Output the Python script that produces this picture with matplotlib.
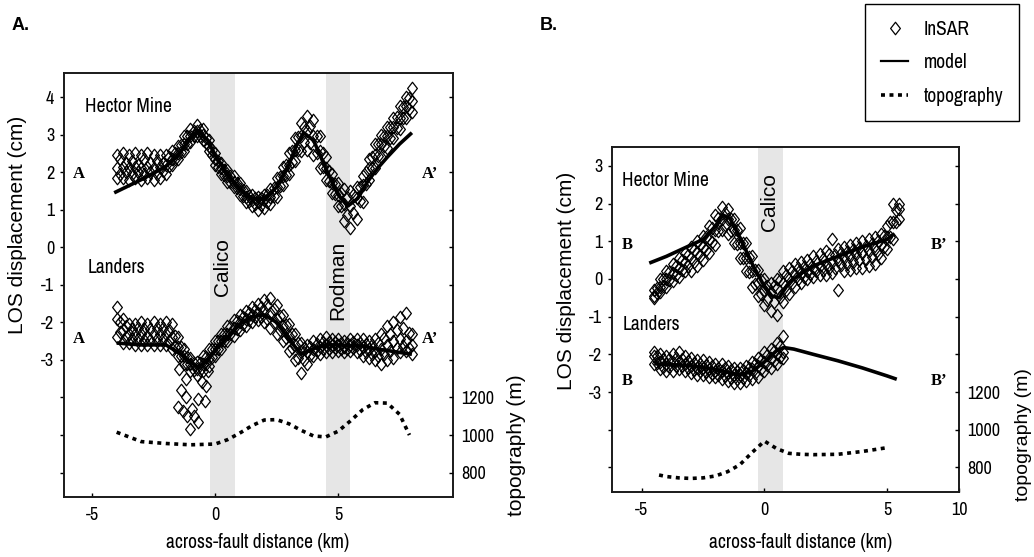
import matplotlib
matplotlib.use("Agg")
import matplotlib.pyplot as plt
from matplotlib.path import Path
from matplotlib.lines import Line2D

# ---------------------------------------------------------------------------
# Profile A-A'  (across-fault distance in km, LOS displacement in cm)
# ---------------------------------------------------------------------------
a_x = [-4.0, -3.75, -3.5, -3.25, -3.0, -2.75, -2.5, -2.25, -2.0, -1.75, -1.5,
       -1.25, -1.0, -0.75, -0.5, -0.25, 0.0, 0.25, 0.5, 0.75, 1.0, 1.25, 1.5,
       1.75, 2.0, 2.25, 2.5, 2.75, 3.0, 3.25, 3.5, 3.75, 4.0, 4.25, 4.5, 4.75,
       5.0, 5.25, 5.5, 5.75, 6.0, 6.25, 6.5, 6.75, 7.0, 7.25, 7.5, 7.75, 8.0]
a_x2 = [-3.875, -3.625, -3.375, -3.125, -2.875, -2.625, -2.375, -2.125,
        -1.875, -1.625, -1.375, -1.125, -0.875, -0.625, -0.375, -0.125,
        0.125, 0.375, 0.625, 0.875, 1.125, 1.375, 1.625, 1.875,
        2.125, 2.375, 2.625, 2.875, 3.125, 3.375, 3.625, 3.875,
        4.125, 4.375, 4.625, 4.875, 5.125, 5.375, 5.625, 5.875,
        6.125, 6.375, 6.625, 6.875, 7.125, 7.375, 7.625, 7.875]

# Hector Mine InSAR samples along A-A' (adjacent tracks)
hm_a_upper = [2.45, 2.5, 2.45, 2.5, 2.45, 2.5, 2.45, 2.45, 2.45, 2.55, 2.7,
              2.95, 3.15, 3.25, 3.15, 2.85, 2.5, 2.25, 2.05, 1.9, 1.7, 1.5, 1.4,
              1.35, 1.4, 1.55, 1.85, 2.15, 2.5, 2.9, 3.3, 3.5, 3.4, 2.95, 2.4,
              1.95, 1.7, 1.55, 1.5, 1.6, 1.9, 2.35, 2.75, 3.0, 3.2, 3.45, 3.75,
              4.0, 4.25]
hm_a_mid = [2.1, 2.15, 2.1, 2.15, 2.1, 2.15, 2.1, 2.15, 2.2, 2.35, 2.5,
            2.75, 2.95, 3.1, 3.0, 2.7, 2.35, 2.1, 1.9, 1.75, 1.55, 1.35, 1.25,
            1.2, 1.25, 1.35, 1.6, 1.9, 2.2, 2.6, 2.95, 3.1, 2.95, 2.55, 2.1,
            1.7, 1.4, 1.15, 1.1, 1.3, 1.65, 2.1, 2.45, 2.75, 2.95, 3.2, 3.45,
            3.75, 3.9]
hm_a_lower = [1.85, 1.85, 1.8, 1.85, 1.8, 1.85, 1.8, 1.85, 1.95, 2.2, 2.35,
              2.55, 2.8, 2.95, 2.85, 2.55, 2.2, 1.95, 1.75, 1.6, 1.4, 1.2, 1.1,
              1.0, 1.05, 1.15, 1.35, 1.65, 1.95, 2.3, 2.55, 2.6, 2.45, 2.1, 1.8,
              1.45, 1.1, 0.7, 0.5, 0.75, 1.2, 1.8, 2.1, 2.4, 2.65, 2.9, 3.15,
              3.45, 3.6]
hm_a_upper2 = [2.35, 2.25, 2.3, 2.2, 2.35, 2.25, 2.3, 2.25, 2.4, 2.52, 2.72,
               2.95, 3.1, 3.12, 2.92, 2.6, 2.3, 2.07, 1.9, 1.72, 1.52, 1.37,
               1.3, 1.3, 1.39, 1.59, 1.87, 2.19, 2.55, 2.94, 3.21, 3.24, 2.96,
               2.5, 2.04, 1.69, 1.45, 1.33, 1.38, 1.61, 2.0, 2.41, 2.74, 2.97,
               3.2, 3.46, 3.74, 3.98]
hm_a_lower2 = [1.95, 2.0, 1.95, 2.0, 1.95, 2.0, 1.95, 2.04, 2.17, 2.35, 2.54,
               2.76, 2.95, 2.97, 2.77, 2.45, 2.15, 1.92, 1.75, 1.57, 1.37,
               1.22, 1.14, 1.12, 1.2, 1.36, 1.62, 1.92, 2.26, 2.6, 2.8, 2.77,
               2.51, 2.14, 1.76, 1.41, 1.09, 0.86, 0.91, 1.22, 1.69, 2.11,
               2.42, 2.69, 2.92, 3.17, 3.45, 3.67]

# Landers InSAR samples along A-A'
la_a_upper = [-1.6, -1.9, -2.05, -2.05, -2.0, -2.05, -2.0, -2.05, -2.0, -2.05,
              -2.4, -2.7, -2.95, -3.05, -2.9, -2.7, -2.5, -2.3, -2.1, -1.95,
              -1.8, -1.7, -1.6, -1.5, -1.4, -1.35, -1.55, -1.8, -2.05, -2.3,
              -2.55, -2.6, -2.5, -2.45, -2.4, -2.45, -2.45, -2.5, -2.45, -2.45,
              -2.45, -2.5, -2.45, -2.3, -2.1, -2.0, -1.85, -1.75, -2.3]
la_a_mid = [-1.9, -2.2, -2.3, -2.3, -2.3, -2.35, -2.3, -2.3, -2.3, -2.4,
            -2.65, -2.9, -3.1, -3.25, -3.1, -2.95, -2.7, -2.5, -2.3, -2.15,
            -2.0, -1.9, -1.8, -1.75, -1.7, -1.75, -1.9, -2.1, -2.35, -2.6,
            -2.8, -2.8, -2.7, -2.65, -2.6, -2.6, -2.6, -2.65, -2.6, -2.6,
            -2.65, -2.7, -2.75, -2.7, -2.6, -2.5, -2.45, -2.5, -2.6]
la_a_lower = [-2.4, -2.55, -2.55, -2.6, -2.6, -2.6, -2.6, -2.6, -2.6, -2.7,
              -2.9, -3.1, -3.3, -3.4, -3.3, -3.15, -2.9, -2.7, -2.5, -2.35,
              -2.2, -2.1, -2.0, -1.95, -2.0, -2.15, -2.3, -2.5, -2.75, -3.0,
              -3.35, -3.1, -2.9, -2.85, -2.8, -2.8, -2.75, -2.8, -2.75, -2.8,
              -2.9, -2.95, -3.0, -3.1, -3.0, -2.95, -2.8, -2.75, -2.85]
la_a_upper2 = [-2.0, -2.1, -2.18, -2.15, -2.18, -2.18, -2.16, -2.16, -2.19,
               -2.37, -2.66, -2.91, -3.09, -3.07, -2.91, -2.71, -2.5, -2.3,
               -2.12, -1.97, -1.85, -1.75, -1.66, -1.59, -1.55, -1.64, -1.84,
               -2.07, -2.32, -2.56, -2.69, -2.65, -2.57, -2.52, -2.52, -2.52,
               -2.55, -2.55, -2.52, -2.54, -2.58, -2.6, -2.55, -2.42, -2.3,
               -2.2, -2.14, -2.29]
la_a_lower2 = [-2.26, -2.4, -2.44, -2.45, -2.46, -2.46, -2.45, -2.45, -2.5,
               -2.66, -2.89, -3.1, -3.26, -3.26, -3.12, -2.92, -2.7, -2.5,
               -2.32, -2.17, -2.05, -1.95, -1.87, -1.85, -1.9, -2.02, -2.2,
               -2.42, -2.67, -2.94, -3.01, -2.87, -2.77, -2.72, -2.7, -2.69,
               -2.7, -2.7, -2.69, -2.74, -2.8, -2.85, -2.89, -2.85, -2.76,
               -2.68, -2.63, -2.68]
# Landers samples in the deep trough west of the Calico fault
la_a_dip_x = [-1.45, -1.4, -1.5, -1.3, -1.2, -1.2, -1.15, -1.0, -0.95, -0.85,
              -0.7, -0.7, -0.55, -0.4, -0.35, -0.3]
la_a_dip_y = [-3.25, -3.8, -4.25, -4.35, -3.5, -4.0, -4.5, -4.85, -4.3, -4.5,
              -4.65, -4.05, -3.6, -4.1, -3.7, -3.3]

# Model predictions along A-A'
hm_a_model_x = [-4.1, -3.0, -2.0, -1.5, -1.0, -0.7, -0.3, 0.0, 0.5, 1.0, 1.5,
                2.0, 2.5, 3.0, 3.3, 3.6, 4.0, 4.5, 5.0, 5.4, 5.8, 6.2, 6.6,
                7.0, 7.5, 8.0]
hm_a_model_y = [1.45, 1.8, 2.15, 2.45, 2.9, 3.1, 2.85, 2.45, 1.95, 1.55, 1.3,
                1.3, 1.6, 2.2, 2.7, 3.05, 2.85, 2.1, 1.4, 1.1, 1.3, 1.75, 2.1,
                2.4, 2.75, 3.05]
la_a_model_x = [-4.0, -3.0, -2.0, -1.5, -1.0, -0.7, -0.3, 0.0, 0.5, 1.0, 1.5,
                2.0, 2.5, 3.0, 3.5, 4.0, 4.5, 5.0, 5.5, 6.0, 6.5, 7.0, 7.5, 8.0]
la_a_model_y = [-2.55, -2.6, -2.6, -2.8, -3.05, -3.2, -3.0, -2.75, -2.4,
                -2.05, -1.85, -1.8, -2.0, -2.45, -2.85, -2.7, -2.6, -2.6,
                -2.62, -2.63, -2.7, -2.75, -2.8, -2.85]

# Topography along A-A' (m)
topo_a_x = [-4.0, -3.0, -2.0, -1.0, 0.0, 0.5, 1.0, 1.5, 2.0, 2.5, 3.0, 3.5,
            4.0, 4.5, 5.0, 5.5, 6.0, 6.5, 7.0, 7.5, 7.9]
topo_a = [1015, 965, 955, 948, 952, 975, 1010, 1050, 1080, 1082, 1060, 1025,
          995, 990, 1020, 1075, 1135, 1172, 1170, 1110, 1000]

# ---------------------------------------------------------------------------
# Profile B-B'
# ---------------------------------------------------------------------------
b_hm_x = [-4.5, -4.25, -4.0, -3.75, -3.5, -3.25, -3.0, -2.75, -2.5, -2.25,
          -2.0, -1.75, -1.5, -1.25, -1.0, -0.75, -0.5, -0.25, 0.0, 0.25, 0.5,
          0.75, 1.0, 1.25, 1.5, 1.75, 2.0, 2.25, 2.5, 2.75, 3.0, 3.25, 3.5,
          3.75, 4.0, 4.25, 4.5, 4.75, 5.0, 5.25, 5.5]
b_hm_x2 = [-4.375, -4.125, -3.875, -3.625, -3.375, -3.125, -2.875, -2.625,
           -2.375, -2.125, -1.875, -1.625, -1.375, -1.125, -0.875, -0.625,
           -0.375, -0.125, 0.125, 0.375, 0.625, 0.875, 1.125, 1.375, 1.625,
           1.875, 2.125, 2.375, 2.625, 2.875, 3.125, 3.375, 3.625, 3.875,
           4.125, 4.375, 4.625, 4.875, 5.125, 5.375]
hm_b_upper = [-0.3, 0.0, 0.2, 0.4, 0.55, 0.7, 0.85, 1.0, 1.15, 1.4, 1.7, 1.9,
              1.85, 1.6, 1.35, 0.95, 0.6, 0.25, 0.0, -0.1, 0.0, 0.2, 0.3, 0.4,
              0.45, 0.5, 0.6, 0.65, 0.75, 1.05, 0.8, 0.85, 0.9, 0.95, 1.0,
              1.05, 1.1, 1.2, 1.4, 2.0, 2.0]
hm_b_mid = [-0.45, -0.2, 0.0, 0.15, 0.3, 0.45, 0.55, 0.7, 0.85, 1.05, 1.3,
            1.6, 1.6, 1.3, 0.95, 0.55, 0.2, -0.1, -0.3, -0.35, -0.25, -0.1,
            0.0, 0.1, 0.15, 0.2, 0.3, 0.35, 0.4, 0.45, 0.5, 0.55, 0.6, 0.65,
            0.7, 0.75, 0.8, 0.9, 1.1, 1.5, 1.85]
hm_b_lower = [-0.5, -0.35, -0.2, -0.05, 0.05, 0.2, 0.2, 0.35, 0.5, 0.7, 0.9,
              1.3, 1.2, 0.95, 0.55, 0.2, -0.2, -0.45, -0.7, -0.85, -0.95,
              -0.6, -0.4, -0.2, -0.1, 0.0, 0.05, 0.1, 0.1, 0.15, -0.3, 0.2,
              0.25, 0.3, 0.3, 0.35, 0.4, 0.55, 0.8, 1.05, 1.6]
hm_b_upper2 = [-0.24, 0.0, 0.19, 0.35, 0.5, 0.64, 0.78, 0.93, 1.11, 1.36,
               1.63, 1.74, 1.59, 1.3, 0.95, 0.58, 0.24, -0.04, -0.19, -0.18,
               -0.04, 0.1, 0.2, 0.28, 0.33, 0.4, 0.48, 0.54, 0.65, 0.64,
               0.68, 0.72, 0.78, 0.83, 0.88, 0.93, 1.0, 1.15, 1.5, 1.84]
hm_b_lower2 = [-0.38, -0.19, -0.03, 0.11, 0.25, 0.35, 0.45, 0.6, 0.78, 0.99,
               1.28, 1.42, 1.26, 0.94, 0.56, 0.19, -0.14, -0.39, -0.55, -0.6,
               -0.48, -0.28, -0.12, -0.01, 0.06, 0.14, 0.2, 0.24, 0.28, 0.3,
               0.36, 0.4, 0.45, 0.49, 0.53, 0.58, 0.66, 0.84, 1.11, 1.5]

b_la_x = [-4.5, -4.25, -4.0, -3.75, -3.5, -3.25, -3.0, -2.75, -2.5, -2.25,
          -2.0, -1.75, -1.5, -1.25, -1.0, -0.75, -0.5, -0.25, 0.0, 0.25, 0.5,
          0.75]
b_la_x2 = [-4.375, -4.125, -3.875, -3.625, -3.375, -3.125, -2.875, -2.625,
           -2.375, -2.125, -1.875, -1.625, -1.375, -1.125, -0.875, -0.625,
           -0.375, -0.125, 0.125, 0.375, 0.625]
la_b_upper = [-1.95, -2.0, -2.05, -2.0, -1.95, -2.05, -2.1, -2.15, -2.15,
              -2.2, -2.25, -2.25, -2.3, -2.35, -2.35, -2.3, -2.2, -2.1, -1.95,
              -1.85, -1.7, -1.5]
la_b_mid = [-2.05, -2.2, -2.25, -2.2, -2.2, -2.25, -2.3, -2.35, -2.35, -2.4,
            -2.45, -2.45, -2.5, -2.55, -2.55, -2.5, -2.4, -2.3, -2.2, -2.1,
            -2.0, -1.95]
la_b_lower = [-2.25, -2.4, -2.45, -2.45, -2.4, -2.45, -2.5, -2.55, -2.55,
              -2.6, -2.6, -2.65, -2.7, -2.75, -2.75, -2.7, -2.65, -2.6, -2.45,
              -2.35, -2.25, -2.1]
la_b_upper2 = [-2.05, -2.12, -2.13, -2.09, -2.11, -2.18, -2.22, -2.25, -2.27,
               -2.32, -2.35, -2.37, -2.42, -2.45, -2.42, -2.35, -2.25, -2.14,
               -2.02, -1.91, -1.79]
la_b_lower2 = [-2.22, -2.33, -2.34, -2.31, -2.32, -2.37, -2.42, -2.45, -2.47,
               -2.51, -2.54, -2.57, -2.62, -2.65, -2.62, -2.56, -2.49, -2.39,
               -2.27, -2.17, -2.07]

hm_b_model_x = [-4.7, -4.0, -3.0, -2.5, -2.0, -1.7, -1.4, -1.0, -0.5, 0.0,
                0.3, 0.6, 1.0, 1.5, 2.0, 3.0, 4.0, 5.0, 5.3]
hm_b_model_y = [0.42, 0.6, 0.9, 1.05, 1.4, 1.7, 1.6, 1.1, 0.4, -0.2, -0.45,
                -0.5, -0.1, 0.15, 0.35, 0.6, 0.85, 1.05, 1.2]
la_b_model_x = [-4.5, -3.0, -2.0, -1.0, -0.5, 0.0, 0.5, 0.8, 1.2, 2.0, 3.0,
                4.0, 5.0, 5.4]
la_b_model_y = [-2.25, -2.3, -2.4, -2.55, -2.45, -2.2, -1.9, -1.82, -1.86,
                -2.0, -2.17, -2.36, -2.57, -2.66]

topo_b_x = [-4.3, -4.0, -3.5, -3.0, -2.5, -2.0, -1.5, -1.0, -0.5, 0.0, 0.5,
            1.0, 1.5, 2.0, 3.0, 4.0, 5.0]
topo_b = [760, 752, 745, 742, 745, 755, 778, 815, 880, 940, 900, 875, 870,
          868, 870, 885, 905]

# ---------------------------------------------------------------------------
# Styling
# ---------------------------------------------------------------------------
NARROW = ['Liberation Sans Narrow', 'Arial Narrow', 'Nimbus Sans Narrow',
          'Archivo Narrow', 'Roboto Condensed', 'PT Sans Narrow',
          'Liberation Sans', 'DejaVu Sans']
WIDE = ['Liberation Sans', 'DejaVu Sans']
SERIF = ['Liberation Serif', 'DejaVu Serif']
plt.rcParams['font.family'] = NARROW
plt.rcParams['axes.unicode_minus'] = False

DIAMOND = Path([(0, 1), (0.78, 0), (0, -1), (-0.78, 0), (0, 1)],
               [Path.MOVETO, Path.LINETO, Path.LINETO, Path.LINETO,
                Path.CLOSEPOLY])
PT_STYLE = dict(ls='none', marker=DIAMOND, ms=9, mfc='none', mec='black',
                mew=0.9, zorder=3)
MODEL_STYLE = dict(color='black', lw=2.6, zorder=4, solid_capstyle='butt')
TOPO_STYLE = dict(color='black', lw=2.6, ls=(0, (1.1, 1.25)),
                  dash_capstyle='butt', zorder=4)
BAND = '#e6e6e6'

W, H = 1034, 557
fig = plt.figure(figsize=(W / 100, H / 100), dpi=100)


def frac_x(px):
    return px / W


def frac_y(py):
    return 1 - py / H


def make_panel(left, top, right, bottom, xlim, ylim, yticks, ylabelled,
               topo_ref, xticks, xticklabels):
    ax = fig.add_axes([frac_x(left), frac_y(bottom),
                       frac_x(right - left), (bottom - top) / H])
    ax.set_xlim(*xlim)
    ax.set_ylim(*ylim)
    ax.set_yticks(yticks)
    ax.set_yticklabels([str(v) if v in ylabelled else '' for v in yticks])
    ax.set_xticks(xticks)
    ax.set_xticklabels(xticklabels)
    ax.tick_params(axis='y', direction='out', length=3, width=1,
                   labelsize=13, pad=4)
    ax.tick_params(axis='x', direction='in', length=3, width=1,
                   labelsize=13, pad=7)
    for s in ax.spines.values():
        s.set_linewidth(1.4)
        s.set_color('#1a1a1a')
    # topography scale on the right: 200 m per displacement unit
    axt = ax.twinx()
    base, unit = topo_ref
    axt.set_ylim(base + unit * ylim[0], base + unit * ylim[1])
    tt = [base + unit * v for v in yticks]
    axt.set_yticks(tt)
    axt.set_yticklabels([str(int(t)) if t in (800, 1000, 1200) else ''
                         for t in tt])
    axt.tick_params(axis='y', direction='in', length=3, width=1,
                    labelsize=13, pad=6)
    for s in axt.spines.values():
        s.set_visible(False)
    return ax, axt


# ----------------------------- panel A ------------------------------------
axA, axA_t = make_panel(64, 73, 453, 497, (-6.14, 9.67), (-6.65, 4.64),
                        list(range(-6, 5)), list(range(-3, 5)),
                        (2000, 200), [-5, 0, 5], ['-5', '0', '5'])
axA.axvspan(-0.2, 0.8, color=BAND, lw=0, zorder=0)
axA.axvspan(4.5, 5.5, color=BAND, lw=0, zorder=0)

for ys in (hm_a_upper, hm_a_mid, hm_a_lower, la_a_upper, la_a_mid,
           la_a_lower):
    axA.plot(a_x, ys, **PT_STYLE)
for ys in (hm_a_upper2, hm_a_lower2, la_a_upper2, la_a_lower2):
    axA.plot(a_x2, ys, **PT_STYLE)
axA.plot(la_a_dip_x, la_a_dip_y, **PT_STYLE)
axA.plot(hm_a_model_x, hm_a_model_y, **MODEL_STYLE)
axA.plot(la_a_model_x, la_a_model_y, **MODEL_STYLE)
axA_t.plot(topo_a_x, topo_a, **TOPO_STYLE)

axA.text(-5.28, 3.75, 'Hector Mine', fontsize=14, va='center', ha='left')
axA.text(-5.16, -0.53, 'Landers', fontsize=14, va='center', ha='left')
axA.text(0.3, -0.53, 'Calico', fontsize=15, rotation=90, va='center',
         ha='center', family=WIDE)
axA.text(5.0, -0.88, 'Rodman', fontsize=15, rotation=90, va='center',
         ha='center', family=WIDE)
for yy in (1.94, -2.45):
    axA.text(-5.53, yy, 'A', fontsize=12, weight='bold', family=SERIF,
             va='center', ha='center')
    axA.text(8.74, yy, 'A\u2019', fontsize=12, weight='bold', family=SERIF,
             va='center', ha='center')

# ----------------------------- panel B ------------------------------------
axB, axB_t = make_panel(612, 147, 959, 492, (-6.22, 7.94), (-5.65, 3.5),
                        list(range(-5, 4)), list(range(-3, 4)),
                        (1800, 200), [-5, 0, 5, 7.94],
                        ['-5', '0', '5', '10'])
axB.axvspan(-0.25, 0.75, color=BAND, lw=0, zorder=0)

for ys in (hm_b_upper, hm_b_mid, hm_b_lower):
    axB.plot(b_hm_x, ys, **PT_STYLE)
for ys in (hm_b_upper2, hm_b_lower2):
    axB.plot(b_hm_x2, ys, **PT_STYLE)
for ys in (la_b_upper, la_b_mid, la_b_lower):
    axB.plot(b_la_x, ys, **PT_STYLE)
for ys in (la_b_upper2, la_b_lower2):
    axB.plot(b_la_x2, ys, **PT_STYLE)
axB.plot(hm_b_model_x, hm_b_model_y, **MODEL_STYLE)
axB.plot(la_b_model_x, la_b_model_y, **MODEL_STYLE)
axB_t.plot(topo_b_x, topo_b, **TOPO_STYLE)

axB.text(-5.8, 2.6, 'Hector Mine', fontsize=14, va='center', ha='left')
axB.text(-5.8, -1.2, 'Landers', fontsize=14, va='center', ha='left')
axB.text(0.2, 2.04, 'Calico', fontsize=15, rotation=90, va='center',
         ha='center', family=WIDE)
for yy in (0.9, -2.7):
    axB.text(-5.6, yy, 'B', fontsize=12, weight='bold', family=SERIF,
             va='center', ha='center')
    axB.text(7.14, yy, 'B\u2019', fontsize=12, weight='bold', family=SERIF,
             va='center', ha='center')

# ----------------------------- labels -------------------------------------
fig.text(frac_x(258), frac_y(542), 'across-fault distance (km)', fontsize=14,
         ha='center', va='center')
fig.text(frac_x(801), frac_y(542), 'across-fault distance (km)', fontsize=14,
         ha='center', va='center')
fig.text(frac_x(18), frac_y(225), 'LOS displacement (cm)', fontsize=15,
         rotation=90, ha='center', va='center', family=WIDE)
fig.text(frac_x(567), frac_y(281), 'LOS displacement (cm)', fontsize=15,
         rotation=90, ha='center', va='center', family=WIDE)
fig.text(frac_x(517), frac_y(445), 'topography (m)', fontsize=15,
         rotation=90, ha='center', va='center', family=WIDE)
fig.text(frac_x(1023), frac_y(435), 'topography (m)', fontsize=14,
         rotation=90, ha='center', va='center', family=WIDE)
fig.text(frac_x(12), frac_y(26), 'A.', fontsize=13, weight='bold',
         ha='left', va='center', family=WIDE)
fig.text(frac_x(540), frac_y(26), 'B.', fontsize=13, weight='bold',
         ha='left', va='center', family=WIDE)

# ----------------------------- legend -------------------------------------
handles = [
    Line2D([], [], ls='none', marker=DIAMOND, ms=9, mfc='none', mec='black',
           mew=0.9, label='InSAR'),
    Line2D([], [], color='black', lw=1.6, label='model'),
    Line2D([], [], color='black', lw=2.6, ls=(0, (1.1, 1.25)),
           dash_capstyle='butt', label='topography'),
]
leg = fig.legend(handles=handles, loc='upper right',
                 bbox_to_anchor=(frac_x(1019), frac_y(4)), frameon=True,
                 fancybox=False, edgecolor='black', framealpha=1,
                 fontsize=14, handlelength=1.4, labelspacing=0.75,
                 borderpad=0.8, handletextpad=0.8, borderaxespad=0)
leg.get_frame().set_linewidth(1.0)

fig.savefig('out.png', dpi=100)
